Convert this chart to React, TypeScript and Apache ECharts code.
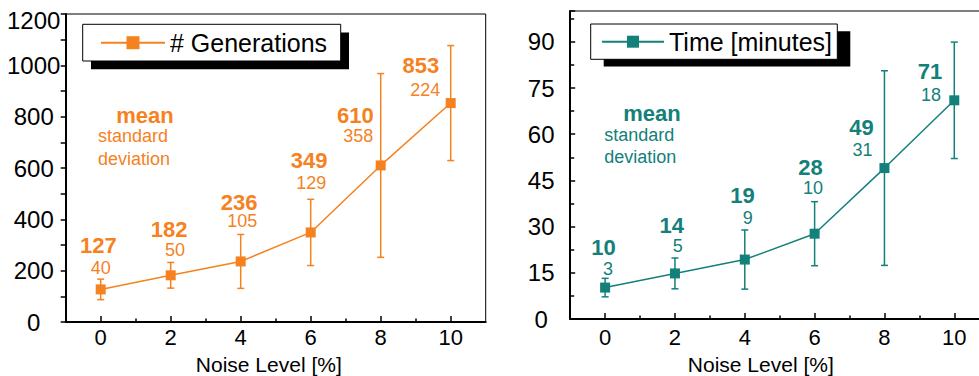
import { useEffect, useRef } from 'react';
import * as echarts from 'echarts';

// ---------- data ----------
const noiseLevels = [0, 2, 4, 6, 8, 10];
const genMean = [127, 182, 236, 349, 610, 853];
const genStd = [40, 50, 105, 129, 358, 224];
const genMeanLabels = ['127', '182', '236', '349', '610', '853'];
const genStdLabels = ['40', '50', '105', '129', '358', '224'];

const timeMean = [10.2, 14.8, 19.3, 27.7, 49, 71];
const timeStd = [3, 5, 9.6, 10.4, 31.6, 18.9];
const timeMeanLabels = ['10', '14', '19', '28', '49', '71'];
const timeStdLabels = ['3', '5', '9', '10', '31', '18'];

const xTickValues = [0, 2, 4, 6, 8, 10];
const xMinorTickValues = [1, 3, 5, 7, 9];

// ---------- layout (pixel offsets of labels from each marker) ----------
const genLabelOffsets = [
  [-2.4, -43.6, 0, -21.6],
  [-1.5, -45.8, 4.3, -25.6],
  [-1.5, -58.6, 1.5, -40.6],
  [-1.5, -72.4, 0.6, -49.1],
  [-25.4, -50.4, -22.4, -29.6],
  [-29.9, -38, -25.4, -13],
];
const timeLabelOffsets = [
  [-1.7, -40.4, 3, -19],
  [-3.3, -47.5, 2.7, -27.3],
  [-2.2, -63.8, 3, -42],
  [-4.2, -66.1, -1.7, -46],
  [-23, -40.7, -22, -18.4],
  [-24.2, -28.5, -23.3, -5],
];

const FONT = '"Liberation Sans", Arial, Helvetica, sans-serif';
const ORANGE = '#F5821F';
const TEAL = '#13807A';

function errorSeries(
  xAxisIndex: number,
  yAxisIndex: number,
  means: number[],
  stds: number[],
  meanLabels: string[],
  stdLabels: string[],
  offsets: number[][],
  color: string
) {
  return {
    type: 'custom',
    name: 'err' + xAxisIndex,
    xAxisIndex,
    yAxisIndex,
    z: 2,
    silent: true,
    data: noiseLevels.map((x, i) => [x, means[i], stds[i]]),
    renderItem: (params: any, api: any) => {
      const i = params.dataIndex;
      const x = api.value(0);
      const m = api.value(1);
      const s = api.value(2);
      const top = api.coord([x, m + s]);
      const bot = api.coord([x, m - s]);
      const pt = api.coord([x, m]);
      const o = offsets[i];
      const ls = { stroke: color, lineWidth: 1.5 };
      return {
        type: 'group',
        children: [
          { type: 'line', shape: { x1: top[0], y1: top[1], x2: bot[0], y2: bot[1] }, style: ls },
          { type: 'line', shape: { x1: top[0] - 3.5, y1: top[1], x2: top[0] + 3.5, y2: top[1] }, style: ls },
          { type: 'line', shape: { x1: bot[0] - 3.5, y1: bot[1], x2: bot[0] + 3.5, y2: bot[1] }, style: ls },
          {
            type: 'text',
            x: pt[0] + o[0],
            y: pt[1] + o[1],
            style: {
              text: meanLabels[i],
              fill: color,
              font: `bold 22px ${FONT}`,
              lineHeight: 17,
              align: 'center',
              verticalAlign: 'middle',
              textAlign: 'center',
              textVerticalAlign: 'middle',
            },
          },
          {
            type: 'text',
            x: pt[0] + o[2],
            y: pt[1] + o[3],
            style: {
              text: stdLabels[i],
              fill: color,
              font: `18px ${FONT}`,
              lineHeight: 14,
              align: 'center',
              verticalAlign: 'middle',
              textAlign: 'center',
              textVerticalAlign: 'middle',
            },
          },
        ],
      };
    },
  };
}

function mainXAxis(gridIndex: number, margin: number) {
  return {
    type: 'value',
    gridIndex,
    min: -1,
    max: 11,
    interval: 1,
    position: 'bottom',
    axisLine: { show: true, onZero: false, lineStyle: { color: '#000', width: 2 } },
    axisTick: {
      show: true,
      inside: true,
      length: 6,
      customValues: xTickValues,
      lineStyle: { color: '#000', width: 1.5 },
    },
    axisLabel: {
      customValues: xTickValues,
      fontSize: 22,
      color: '#000',
      fontFamily: FONT,
      margin,
      verticalAlign: 'middle',
    },
    splitLine: { show: false },
  };
}

function minorXAxis(gridIndex: number) {
  return {
    type: 'value',
    gridIndex,
    min: -1,
    max: 11,
    interval: 1,
    position: 'bottom',
    axisLine: { show: false, onZero: false },
    axisTick: {
      show: true,
      inside: true,
      length: 3.5,
      customValues: xMinorTickValues,
      lineStyle: { color: '#000', width: 1.5 },
    },
    axisLabel: { show: false },
    splitLine: { show: false },
  };
}

function textEl(text: string, x: number, y: number, font: string, color: string, align: string, lh: number) {
  return {
    type: 'text',
    x,
    y,
    z: 5,
    style: {
      text,
      fill: color,
      font,
      lineHeight: lh,
      align,
      verticalAlign: 'middle',
      textAlign: align,
      textVerticalAlign: 'middle',
    },
  };
}

function legendFrame(x: number, y: number, w: number, h: number, dx: number, dy: number) {
  return [
    { type: 'rect', z: 3, shape: { x: x + dx, y: y + dy, width: w, height: h }, style: { fill: '#000' } },
    { type: 'rect', z: 3, shape: { x, y, width: w, height: h }, style: { fill: '#fff', stroke: '#000', lineWidth: 1 } },
  ];
}

const option: any = {
  animation: false,
  backgroundColor: '#fff',
  grid: [
    { left: 65.7, top: 14, width: 420, height: 308, show: true, borderColor: '#000', borderWidth: 1, backgroundColor: 'transparent' },
    { left: 570.2, top: 11, width: 419, height: 308, show: true, borderColor: '#000', borderWidth: 1, backgroundColor: 'transparent' },
  ],
  xAxis: [mainXAxis(0, 15.5), minorXAxis(0), mainXAxis(1, 18.5), minorXAxis(1)],
  yAxis: [
    {
      type: 'value',
      gridIndex: 0,
      min: 0,
      max: 1200,
      interval: 200,
      axisLine: { show: true, onZero: false, lineStyle: { color: '#000', width: 2 } },
      axisTick: { show: true, inside: false, length: 5, lineStyle: { color: '#000', width: 1.5 } },
      minorTick: { show: true, splitNumber: 2, length: 5, lineStyle: { color: '#000', width: 1.5 } },
      axisLabel: {
        fontSize: 24,
        color: '#000',
        fontFamily: FONT,
        align: 'center',
        margin: 32,
        formatter: (v: number) => (v === 1200 ? `{top|${v}}` : `${v}`),
        rich: { top: { fontSize: 24, color: '#000', fontFamily: FONT, padding: [12, 0, 0, 0] } },
      },
      splitLine: { show: false },
      minorSplitLine: { show: false },
    },
    {
      type: 'value',
      gridIndex: 1,
      min: 0,
      max: 100,
      interval: 15,
      axisLine: { show: true, onZero: false, lineStyle: { color: '#000', width: 2 } },
      axisTick: { show: true, inside: true, length: 5, lineStyle: { color: '#000', width: 1.5 } },
      minorTick: { show: true, splitNumber: 2, length: 4, lineStyle: { color: '#000', width: 1.5 } },
      axisLabel: {
        fontSize: 24,
        color: '#000',
        fontFamily: FONT,
        align: 'center',
        margin: 29,
        showMaxLabel: false,
      },
      splitLine: { show: false },
      minorSplitLine: { show: false },
    },
  ],
  legend: [
    {
      data: ['# Generations'],
      left: 100,
      top: 30.2,
      padding: 0,
      itemWidth: 64,
      itemHeight: 16.25,
      selectedMode: false,
      textStyle: { fontSize: 25, color: '#000', fontFamily: FONT },
      z: 6,
    },
    {
      data: ['Time [minutes]'],
      left: 601,
      top: 29.2,
      padding: 0,
      itemWidth: 62,
      itemHeight: 15,
      selectedMode: false,
      textStyle: { fontSize: 25, color: '#000', fontFamily: FONT },
      z: 6,
    },
  ],
  graphic: [
    ...legendFrame(82.7, 24.3, 258, 36.7, 8.3, 8.3),
    ...legendFrame(590.7, 24, 246.6, 35.3, 13, 7.3),
    textEl('mean', 145, 115, `bold 22px ${FONT}`, ORANGE, 'center', 18),
    textEl('standard', 98, 136.4, `18px ${FONT}`, ORANGE, 'left', 18),
    textEl('deviation', 98, 159.4, `18px ${FONT}`, ORANGE, 'left', 18),
    textEl('mean', 652, 113, `bold 22px ${FONT}`, TEAL, 'center', 18),
    textEl('standard', 604.3, 135.4, `18px ${FONT}`, TEAL, 'left', 18),
    textEl('deviation', 604.3, 157, `18px ${FONT}`, TEAL, 'left', 18),
    textEl('Noise Level [%]', 268.8, 364, `21px ${FONT}`, '#000', 'center', 21),
    textEl('Noise Level [%]', 760.8, 364, `21px ${FONT}`, '#000', 'center', 21),
  ],
  series: [
    errorSeries(0, 0, genMean, genStd, genMeanLabels, genStdLabels, genLabelOffsets, ORANGE),
    errorSeries(2, 1, timeMean, timeStd, timeMeanLabels, timeStdLabels, timeLabelOffsets, TEAL),
    {
      type: 'line',
      name: '# Generations',
      xAxisIndex: 0,
      yAxisIndex: 0,
      z: 3,
      data: noiseLevels.map((x, i) => [x, genMean[i]]),
      symbol: 'rect',
      symbolSize: 10,
      lineStyle: { color: ORANGE, width: 1.5 },
      itemStyle: { color: ORANGE },
      emphasis: { disabled: true },
    },
    {
      type: 'line',
      name: 'Time [minutes]',
      xAxisIndex: 2,
      yAxisIndex: 1,
      z: 3,
      data: noiseLevels.map((x, i) => [x, timeMean[i]]),
      symbol: 'rect',
      symbolSize: 10,
      lineStyle: { color: TEAL, width: 1.5 },
      itemStyle: { color: TEAL },
      emphasis: { disabled: true },
    },
  ],
};

export default function App() {
  const ref = useRef<HTMLDivElement>(null);
  useEffect(() => {
    if (!ref.current) return;
    const chart = echarts.init(ref.current, null, { renderer: 'svg' });
    chart.setOption(option);
    return () => chart.dispose();
  }, []);
  return (
    <div
      style={{
        position: 'fixed',
        left: 0,
        top: 0,
        width: 979,
        height: 376,
        overflow: 'hidden',
        background: '#fff',
      }}
    >
      <div ref={ref} style={{ width: 1000, height: 376 }} />
    </div>
  );
}
